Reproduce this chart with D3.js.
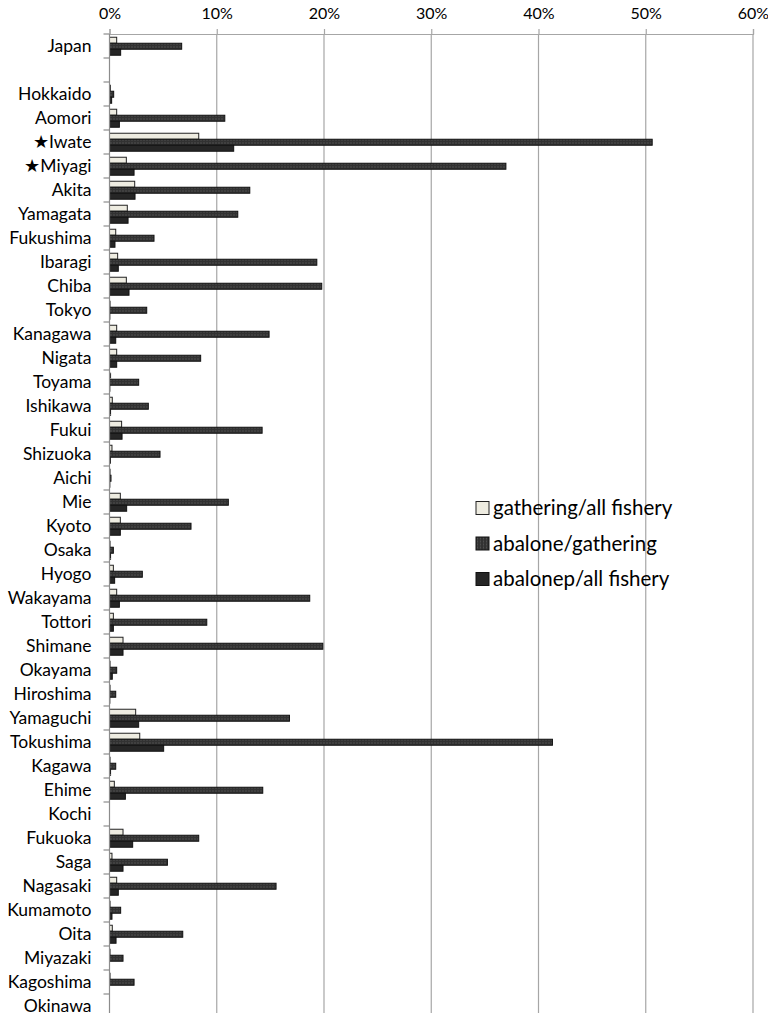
<!DOCTYPE html>
<html>
<head>
<meta charset="utf-8">
<script src="https://cdn.jsdelivr.net/npm/d3@7"></script>
<style>
  html, body { margin: 0; padding: 0; background: #fff; }
  svg { display: block; }
  text { font-family: Lato, "Open Sans", sans-serif; fill: #000; }
</style>
</head>
<body>
<svg id="chart" width="768" height="1013"></svg>
<script>
// Regions (the empty entry is a spacer row between the national total and the prefectures)
const categories = ["Japan", "", "Hokkaido", "Aomori", "★Iwate", "★Miyagi", "Akita", "Yamagata",
  "Fukushima", "Ibaragi", "Chiba", "Tokyo", "Kanagawa", "Nigata", "Toyama", "Ishikawa", "Fukui",
  "Shizuoka", "Aichi", "Mie", "Kyoto", "Osaka", "Hyogo", "Wakayama", "Tottori", "Shimane",
  "Okayama", "Hiroshima", "Yamaguchi", "Tokushima", "Kagawa", "Ehime", "Kochi", "Fukuoka",
  "Saga", "Nagasaki", "Kumamoto", "Oita", "Miyazaki", "Kagoshima", "Okinawa"];

// Shares in percent, one value per region (null = spacer row)
const gatheringAllFishery = [0.67, null, 0.08, 0.67, 8.32, 1.57, 2.35, 1.66,
  0.58, 0.76, 1.57, 0.05, 0.67, 0.67, 0.1, 0.26, 1.13,
  0.23, 0.05, 1.01, 1.01, 0.05, 0.36, 0.67, 0.36, 1.26,
  0.05, 0.05, 2.44, 2.82, 0.05, 0.45, 0, 1.26,
  0.23, 0.67, 0.05, 0.26, 0.05, 0.05, 0];

const abaloneGathering = [6.73, null, 0.39, 10.75, 50.6, 36.96, 13.08, 11.96,
  4.15, 19.33, 19.79, 3.47, 14.88, 8.5, 2.72, 3.62, 14.23,
  4.71, 0.14, 11.08, 7.6, 0.36, 3.06, 18.67, 9.07, 19.89,
  0.67, 0.58, 16.78, 41.3, 0.58, 14.29, 0, 8.32,
  5.4, 15.53, 1.04, 6.83, 1.26, 2.29, 0];

const abaloneAllFishery = [1.04, null, 0.2, 0.92, 11.58, 2.29, 2.38, 1.73,
  0.51, 0.82, 1.82, 0.03, 0.58, 0.67, 0.03, 0.1, 1.17,
  0.08, 0.03, 1.6, 1.01, 0.1, 0.48, 0.92, 0.36, 1.26,
  0.26, 0.03, 2.72, 5.05, 0.1, 1.48, 0, 2.16,
  1.26, 0.82, 0.23, 0.61, 0, 0, 0];

const seriesNames = ["gathering/all fishery", "abalone/gathering", "abalonep/all fishery"];
const xTicks = [0, 10, 20, 30, 40, 50, 60];

const series = [gatheringAllFishery, abaloneGathering, abaloneAllFishery];

const svg = d3.select("#chart");
const margin = { top: 34, left: 109.5 };
const plotW = 753 - margin.left;
const plotH = 984;

// Fill patterns for the three series
const defs = svg.append("defs");
const pat = defs.append("pattern")
  .attr("id", "stripes")
  .attr("patternUnits", "userSpaceOnUse")
  .attr("width", 3).attr("height", 3);
pat.append("rect").attr("width", 3).attr("height", 3).attr("fill", "#323232");
pat.append("rect").attr("x", 1).attr("y", 0).attr("width", 1).attr("height", 2).attr("fill", "#4e4e4e");

const fills = ["#EEECE1", "url(#stripes)", "#262626"];
const strokes = ["#222", "#111", "#111"];

const g = svg.append("g").attr("transform", `translate(${margin.left},${margin.top})`);

const x = d3.scaleLinear().domain([0, 60]).range([0, plotW]);
const y = d3.scaleBand().domain(d3.range(categories.length)).range([0, plotH]).paddingInner(0).paddingOuter(0);
const inner = d3.scaleBand().domain(d3.range(series.length)).range([y.bandwidth() * 0.135, y.bandwidth() * 0.885]);

// Vertical gridlines
g.append("g")
  .selectAll("line")
  .data(xTicks.slice(1))
  .join("line")
  .attr("x1", d => x(d)).attr("x2", d => x(d))
  .attr("y1", 0).attr("y2", plotH + 5)
  .attr("stroke", "#a6a6a6").attr("stroke-width", 1.2);

// Top axis
const xAxis = d3.axisTop(x).tickValues(xTicks).tickFormat(d => d + "%").tickSize(5).tickPadding(10);
const xg = g.append("g").call(xAxis);
xg.select(".domain").attr("stroke", "#a6a6a6").attr("stroke-width", 1.2);
xg.selectAll(".tick line").attr("stroke", "#a6a6a6").attr("stroke-width", 1.2);
xg.selectAll(".tick text").style("font-size", "16px").attr("fill", "#000");

// Bars
series.forEach((vals, si) => {
  g.append("g")
    .selectAll("rect")
    .data(vals.map((v, i) => ({ v, i })).filter(d => d.v !== null))
    .join("rect")
    .attr("x", 0)
    .attr("y", d => y(d.i) + inner(si))
    .attr("width", d => x(d.v))
    .attr("height", inner.bandwidth())
    .attr("fill", fills[si])
    .attr("stroke", d => d.v > 0 ? strokes[si] : "none")
    .attr("stroke-width", 1);
});

// Left category axis with ticks on band boundaries
const yAxisG = g.append("g");
yAxisG.append("line")
  .attr("x1", 0).attr("x2", 0).attr("y1", 0).attr("y2", plotH + 5)
  .attr("stroke", "#8c8c8c").attr("stroke-width", 1.2);
yAxisG.selectAll("line.tk")
  .data(d3.range(categories.length + 1))
  .join("line")
  .attr("class", "tk")
  .attr("x1", -6).attr("x2", 0)
  .attr("y1", d => d * y.step()).attr("y2", d => d * y.step())
  .attr("stroke", "#8c8c8c").attr("stroke-width", 1.2);
yAxisG.selectAll("text")
  .data(categories.map((c, i) => ({ c, i })))
  .join("text")
  .attr("x", -18)
  .attr("y", d => y(d.i) + y.bandwidth() / 2)
  .attr("dy", "0.35em")
  .attr("text-anchor", "end")
  .style("font-size", "17.5px")
  .text(d => d.c);

// Legend
const legend = svg.append("g").attr("transform", "translate(476,508)");
seriesNames.forEach((name, i) => {
  const row = legend.append("g").attr("transform", `translate(0,${i * 35.5})`);
  row.append("rect")
    .attr("x", 0).attr("y", -6.5).attr("width", 13).attr("height", 13)
    .attr("fill", fills[i]).attr("stroke", strokes[i]).attr("stroke-width", 1);
  row.append("text")
    .attr("x", 17).attr("y", 0).attr("dy", "0.35em")
    .style("font-size", "20.5px")
    .text(name);
});
</script>
</body>
</html>
